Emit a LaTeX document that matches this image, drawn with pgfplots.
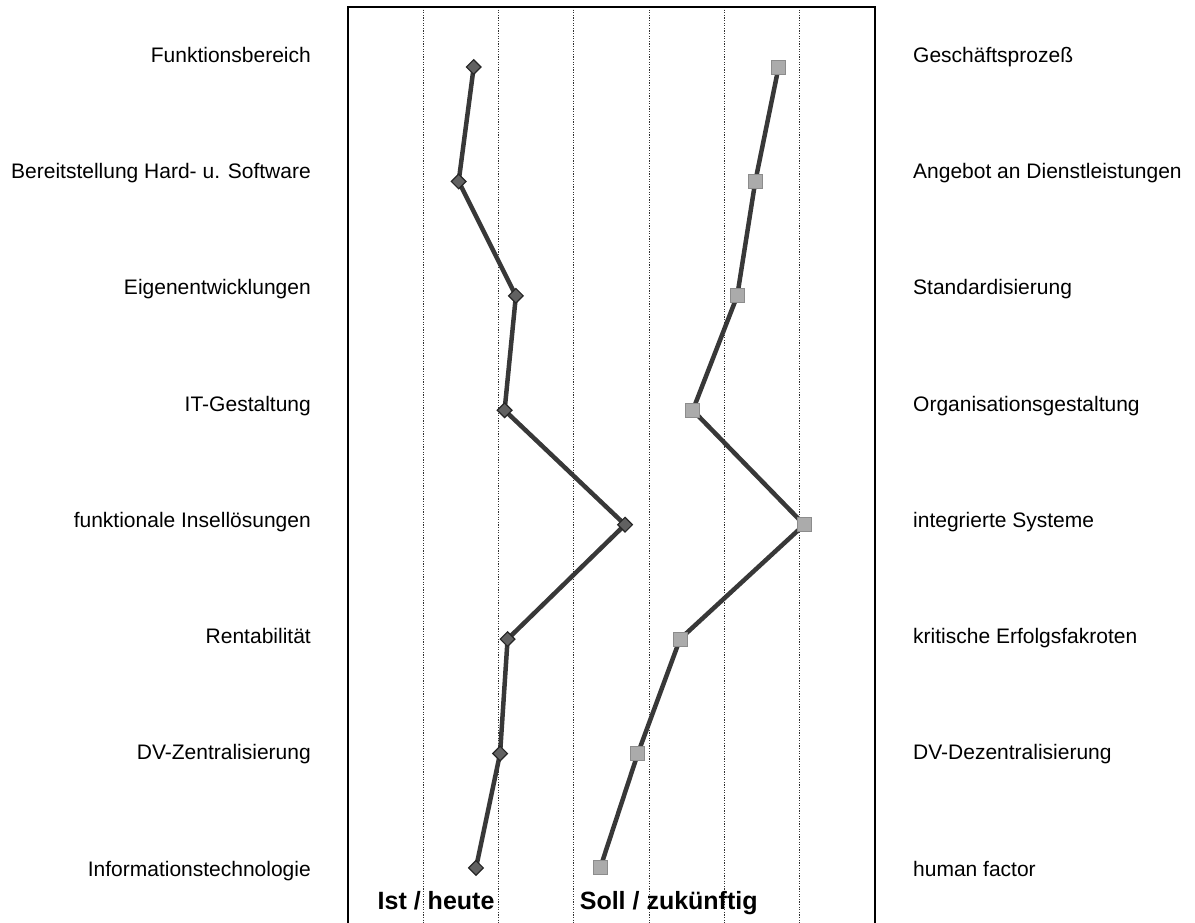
\documentclass[border=0pt]{standalone}
\usepackage{fontspec}
\setmainfont{Liberation Sans}
\usepackage{pgfplots}
\pgfplotsset{compat=1.18}
\begin{document}
\begin{tikzpicture}
\begin{axis}[name=a, at={(0,0)}, anchor=south west,
 scale only axis, width=527pt, height=920pt,
 xmin=0, xmax=7, ymin=0.4755, ymax=8.516, y dir=reverse,
 axis line style={line width=2.4pt, black},
 xtick={1,2,3,4,5,6}, xticklabels={}, xmajorgrids,
 major grid style={black!80, line width=0.9pt, dash pattern=on 1.2pt off 1.4pt},
 ytick={0.959,1.975,2.991,4.007,5.023,6.039,7.055,8.071},
 yticklabels={Funktionsbereich, Bereitstellung Hard- u. Software, Eigenentwicklungen, IT-Gestaltung, funktionale Insellösungen, Rentabilität, DV-Zentralisierung, Informationstechnologie},
 major tick length=0pt,
 yticklabel style={anchor=base east, inner sep=0pt, xshift=-37pt, font=\fontsize{21}{25}\selectfont},
 clip=false,
]
\addplot[black!78, line width=4.5pt, mark=square*, mark size=5.2pt, mark options={rotate=45, fill=black!62, draw=black!85, line width=1.2pt}] coordinates {(1.67,1) (1.47,2) (2.23,3) (2.08,4) (3.68,5) (2.12,6) (2.02,7) (1.70,8)};
\addplot[black!78, line width=4.5pt, mark=square*, mark size=7pt, mark options={fill=black!33, draw=black!45, line width=1pt}] coordinates {(5.72,1) (5.41,2) (5.17,3) (4.58,4) (6.06,5) (4.41,6) (3.85,7) (3.35,8)};
\node[anchor=base, font=\bfseries\fontsize{25}{30}\selectfont] at (axis cs:1.17,8.367) {Ist / heute};
\node[anchor=base, font=\bfseries\fontsize{25}{30}\selectfont] at (axis cs:4.26,8.367) {Soll / zukünftig};
\end{axis}
\begin{axis}[at={(0,0)}, anchor=south west,
 scale only axis, width=527pt, height=920pt,
 xmin=0, xmax=7, ymin=0.4755, ymax=8.516, y dir=reverse,
 axis line style={draw=none}, xtick=\empty,
 ytick={0.959,1.975,2.991,4.007,5.023,6.039,7.055,8.071},
 yticklabel pos=right,
 yticklabels={Geschäftsprozeß, Angebot an Dienstleistungen, Standardisierung, Organisationsgestaltung, integrierte Systeme, kritische Erfolgsfakroten, DV-Dezentralisierung, human factor},
 major tick length=0pt, ytick style={draw=none},
 yticklabel style={anchor=base west, inner sep=0pt, xshift=38pt, font=\fontsize{21}{25}\selectfont},
]
\end{axis}
\pgfresetboundingbox
\path ([shift={(-348pt,5pt)}]a.south west) rectangle ([shift={(847pt,927pt)}]a.south west);
\end{tikzpicture}
\end{document}
